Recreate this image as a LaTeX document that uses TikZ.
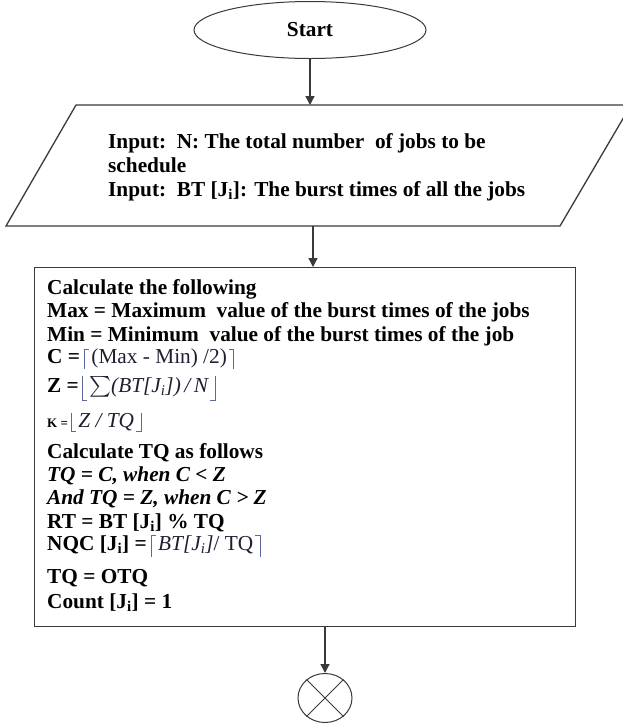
\documentclass[tikz,border=0pt]{standalone}
\usepackage{exscale}
\usepackage{fontspec}
\setmainfont{Liberation Serif}
\usetikzlibrary{shapes.geometric,arrows.meta}
\definecolor{linec}{HTML}{3A3A3A}
\definecolor{brc}{rgb}{0.36,0.41,0.62}
\definecolor{mathc}{rgb}{0.12,0.12,0.2}
\newcommand{\bigtxt}{\fontsize{21.3}{23}\selectfont}
\newcommand{\lcx}[2]{{\color{brc}\rule[-#2]{0.9pt}{\dimexpr#1+#2\relax}\rule[\dimexpr#1-0.9pt\relax]{4.5pt}{0.9pt}}\hspace{2pt}}
\newcommand{\rcx}[2]{\hspace{2pt}{\color{brc}\rule[\dimexpr#1-0.9pt\relax]{4.5pt}{0.9pt}\rule[-#2]{0.9pt}{\dimexpr#1+#2\relax}}}
\newcommand{\lfx}[2]{{\color{brc}\rule[-#2]{0.9pt}{\dimexpr#1+#2\relax}\rule[-#2]{4.5pt}{0.9pt}}\hspace{2pt}}
\newcommand{\rfx}[2]{\hspace{2pt}{\color{brc}\rule[-#2]{4.5pt}{0.9pt}\rule[-#2]{0.9pt}{\dimexpr#1+#2\relax}}}
\begin{document}
\begin{tikzpicture}[x=1pt,y=-1pt,
  shape line/.style={draw=linec,line width=1.3pt},
  arr/.style={draw=linec,line width=1.3pt,-{Triangle[width=9pt,length=9pt]}},
  txt/.style={anchor=base west,inner sep=0pt,font=\bigtxt\bfseries},
  cross/.style={draw=linec,line width=1pt}]
\useasboundingbox (0,0) rectangle (623,724);
\clip (0,0) rectangle (623,724);
\fill[white] (0,0) rectangle (623,724);
% start
\node[ellipse,draw=linec,line width=1pt,minimum width=232pt,minimum height=57pt,inner sep=0pt,font=\bigtxt\bfseries] (start) at (310,30) {Start};
% input parallelogram
\coordinate (pa) at (76,105);
\coordinate (pb) at (631,105);
\coordinate (pc) at (560,226);
\coordinate (pd) at (6,226);
\draw[shape line,line join=miter] (pa) -- (pb) -- (pc) -- (pd) -- cycle;
\node[txt] (p1) at (108,148) {Input:\ \ N: The total number\ \ of jobs to be};
\node[txt] (p2) at (108,172) {schedule};
\node[txt] (p3) at (108,196) {Input:\ \ BT [J\textsubscript{i}]: The burst times of all the jobs};
% calculation box
\node[shape line,minimum width=541pt,minimum height=359pt,inner sep=0pt,anchor=north west] (calc) at (34,267) {};
\node[txt] (l1) at (47,294) {Calculate the following};
\node[txt] (l2) at (47,317) {Max = Maximum\ \ value of the burst times of the jobs};
\node[txt] (l3) at (47,341) {Min = Minimum\ \ value of the burst times of the job};
\node[txt] (l4) at (47,363) {C =\hspace{4pt}\lcx{14pt}{6pt}\textcolor{mathc}{\mdseries(Max - Min) /2)}\rcx{14pt}{6pt}};
\node[txt] (l5) at (47,392) {Z =\hspace{3pt}\lfx{16pt}{9pt}\textcolor{mathc}{$\sum$\mdseries\itshape(BT[J\textsubscript{i}])\,/\,N}\rfx{16pt}{9pt}};
\node[txt] (l6) at (47,427) {{\fontsize{13}{13}\selectfont K =}\hspace{3pt}\lfx{14pt}{5pt}\textcolor{mathc}{\mdseries\itshape Z / TQ}\rfx{14pt}{5pt}};
\node[txt] (l7) at (47,458) {Calculate TQ as follows};
\node[txt] (l8) at (47,481) {\itshape TQ = C, when C < Z};
\node[txt] (l9) at (47,504) {\itshape And TQ = Z, when C > Z};
\node[txt] (l10) at (47,528) {RT = BT [J\textsubscript{i}] \% TQ};
\node[txt] (l11) at (47,550) {NQC [J\textsubscript{i}] =\hspace{4pt}\lcx{15pt}{7pt}\textcolor{mathc}{\mdseries\textit{BT[J\textsubscript{i}]}/ TQ}\rcx{15pt}{7pt}};
\node[txt] (l12) at (47,583) {TQ = OTQ};
\node[txt] (l13) at (47,608) {Count [J\textsubscript{i}] = 1};
% end connector
\node[ellipse,draw=linec,line width=1pt,minimum width=54pt,minimum height=49pt,inner sep=0pt] (endc) at (325,698) {};
\draw[cross] (endc.45) -- (endc.225);
\draw[cross] (endc.135) -- (endc.315);
% arrows
\coordinate (c2) at (313,0);
\draw[arr] (start.south) -- (start.south |- pa);
\draw[arr] (pd -| c2) -- (calc.north -| c2);
\draw[arr] (calc.south -| endc.north) -- (endc.north);
\end{tikzpicture}
\end{document}
